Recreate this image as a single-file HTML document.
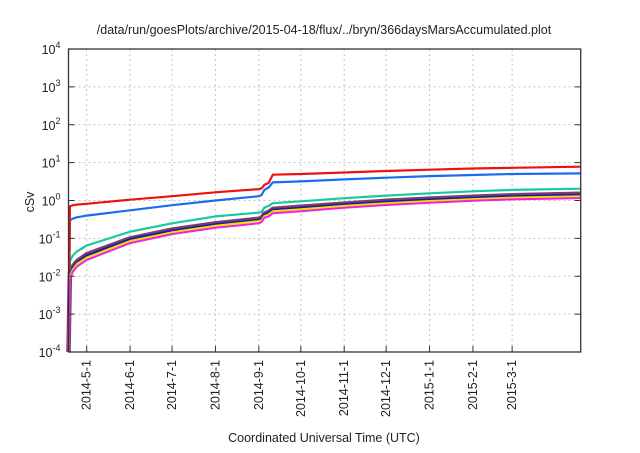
<!DOCTYPE html>
<html><head><meta charset="utf-8"><style>
body{margin:0;background:#fff;}
svg text{font-family:"Liberation Sans",sans-serif;fill:#222;}
</style></head><body>
<svg id="chart" width="640" height="448" xmlns="http://www.w3.org/2000/svg">
<text x="324" y="34" text-anchor="middle" font-size="12.5">/data/run/goesPlots/archive/2015-04-18/flux/../bryn/366daysMarsAccumulated.plot</text>
<text x="0" y="0" transform="translate(34,202) rotate(-90)" text-anchor="middle" font-size="12.5">cSv</text>
<text x="324" y="442" text-anchor="middle" font-size="12.5">Coordinated Universal Time (UTC)</text>
<g id="grid"></g><g id="series"></g><g id="axes"></g>
</svg>
<script>
const xTickDays=[13,44,74,105,136,166,197,227,258,289,317];
const xTickLabels=["2014-5-1","2014-6-1","2014-7-1","2014-8-1","2014-9-1","2014-10-1","2014-11-1","2014-12-1","2015-1-1","2015-2-1","2015-3-1"];
const yTickExps=[-4,-3,-2,-1,0,1,2,3,4];
const days=[0,1,3,6,13,44,74,105,136,138,140,143,146,166,197,227,258,289,317,366];
const redVals=[0.0001,0.7,0.75,0.78,0.82,1.05,1.3,1.65,2.0,2.1,2.6,2.9,4.8,5.0,5.5,6.0,6.5,7.0,7.3,7.8];
const blueVals=[0.0001,0.3,0.33,0.36,0.4,0.55,0.75,1.0,1.3,1.4,1.9,2.2,3.0,3.2,3.6,4.0,4.4,4.7,5.0,5.2];
const tealVals=[0.0001,0.025,0.035,0.045,0.065,0.15,0.25,0.38,0.48,0.5,0.65,0.72,0.85,0.95,1.15,1.35,1.55,1.75,1.9,2.05];
const purpleVals=[0.0001,0.012,0.018,0.025,0.038,0.1,0.17,0.25,0.33,0.35,0.45,0.5,0.6,0.68,0.83,0.98,1.12,1.25,1.37,1.5];
const navyVals=[0.0001,0.011,0.017,0.023,0.035,0.095,0.16,0.235,0.31,0.33,0.43,0.47,0.57,0.64,0.79,0.93,1.06,1.19,1.3,1.42];
const yellowVals=[0.0001,0.01,0.015,0.021,0.031,0.085,0.145,0.215,0.285,0.3,0.39,0.43,0.52,0.59,0.72,0.85,0.97,1.09,1.19,1.3];
const magentaVals=[0.0001,0.008,0.013,0.018,0.027,0.075,0.13,0.19,0.25,0.27,0.35,0.38,0.46,0.52,0.64,0.76,0.87,0.98,1.07,1.16];
const L=68.5,R=580.7,T=49,B=352,D0=0,D1=366;
const xS=d=>L+(d-D0)/(D1-D0)*(R-L);
const yS=v=>T+(4-Math.log10(v))/8*(B-T);
const NS="http://www.w3.org/2000/svg";
function mk(tag,attrs,parent){const e=document.createElementNS(NS,tag);for(const k in attrs)e.setAttribute(k,attrs[k]);parent.appendChild(e);return e;}
const grid=document.getElementById('grid'),axes=document.getElementById('axes'),ser=document.getElementById('series');
xTickDays.forEach((d,i)=>{
  const x=xS(d);
  const g=mk('line',{x1:x,x2:x,y1:T,y2:B,stroke:'#c4c4c4','stroke-dasharray':'2,3','stroke-width':1},grid);
  
  const t=mk('line',{x1:x,x2:x,y1:B,y2:B-6,stroke:'#333','stroke-width':1},axes);
  
  const tx=mk('text',{transform:`translate(${x+4},${360}) rotate(-90)`,'text-anchor':'end','font-size':12.5},axes);
  tx.textContent=xTickLabels[i];
  
});
yTickExps.forEach(e=>{
  const y=yS(Math.pow(10,e));
  if(e>-4&&e<4){const g=mk('line',{x1:L,x2:R,y1:y,y2:y,stroke:'#c4c4c4','stroke-dasharray':'2,3','stroke-width':1},grid);
  }
  const t=mk('line',{x1:L,x2:L+6,y1:y,y2:y,stroke:'#333'},axes);
  
  const t2=mk('line',{x1:R,x2:R-6,y1:y,y2:y,stroke:'#333'},axes);
  
  const tx=mk('text',{x:L-8,y:y+5,'text-anchor':'end','font-size':12.5},axes);
  tx.innerHTML='10<tspan dy="-6" font-size="9">'+e+'</tspan>';
  
});
const frame=mk('rect',{x:L,y:T,width:R-L,height:B-T,fill:'none',stroke:'#333','stroke-width':1.3},axes);

const seriesList=[[purpleVals,'#7a3d6e',4.5,'series-purple'],[tealVals,'#17c8a0',2.2,'series-teal'],[blueVals,'#1a6cf0',2.2,'series-blue'],[redVals,'#ee1111',2.2,'series-red'],[navyVals,'#1a1aa8',2,'series-navy'],[yellowVals,'#f0e000',2,'series-yellow'],[magentaVals,'#f020e0',2,'series-magenta']];
seriesList.forEach(s=>{
  const pts=days.map((d,i)=>xS(d).toFixed(1)+','+yS(s[0][i]).toFixed(1)).join(' ');
  const p=mk('polyline',{points:pts,fill:'none',stroke:s[1],'stroke-width':s[2],'stroke-linejoin':'round'},ser);
  
});
</script>
</body></html>
